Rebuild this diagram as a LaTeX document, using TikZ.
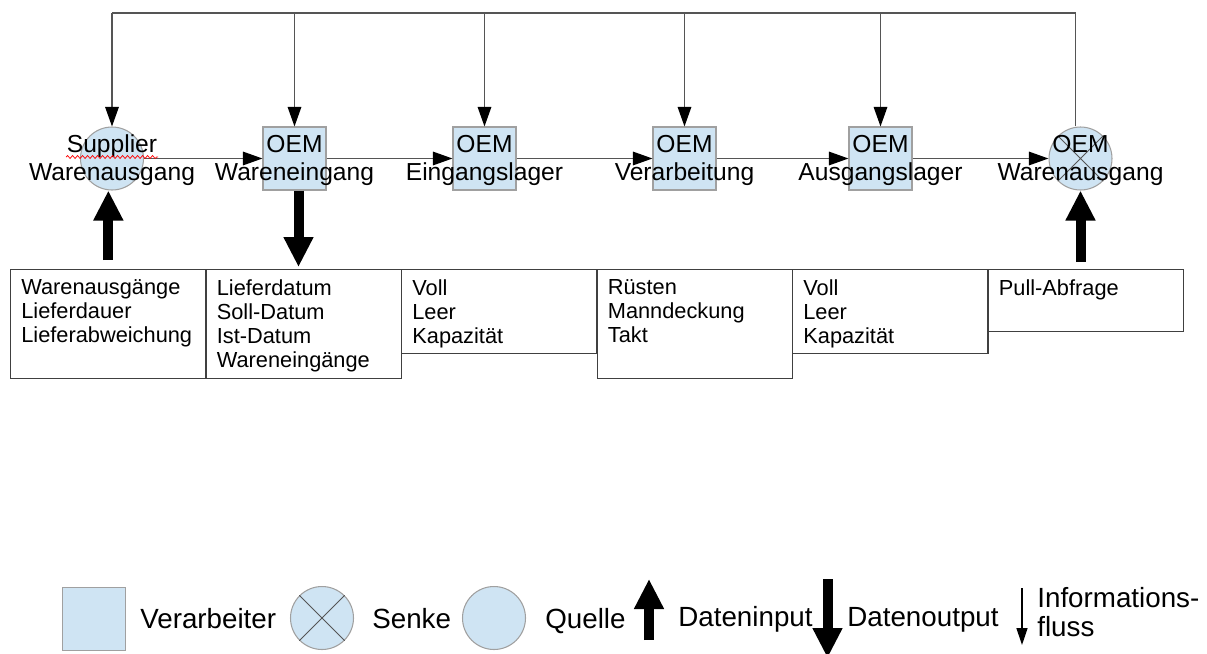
\documentclass[tikz,border=0pt]{standalone}
\usepackage{fontspec}
\setmainfont{Liberation Sans}
\usepackage{tikz}
\usetikzlibrary{arrows.meta,calc,decorations.pathmorphing}

\definecolor{procblue}{RGB}{207,228,243}
\definecolor{rimgray}{RGB}{160,160,160}
\definecolor{flowgray}{RGB}{85,85,85}
\definecolor{boxgray}{RGB}{64,64,64}

\tikzset{
    proc/.style={rectangle, draw=rimgray, fill=procblue, line width=0.6pt, minimum size=1.26cm, inner sep=0pt},
    src/.style={circle, draw=rimgray, fill=procblue, line width=0.6pt, minimum size=1.26cm, inner sep=0pt},
    cross/.style={draw=flowgray, line width=0.5pt},
    lbl/.style={align=center, inner sep=0pt, font=\fontsize{14}{15.9}\selectfont},
    info/.style={draw=flowgray, line width=0.8pt, -{Triangle[width=0.27cm,length=0.39cm,color=black]}},
    infoline/.style={draw=flowgray, line width=0.8pt},
    dataarrow/.style={draw=black, line width=0.2cm, -{Triangle[width=0.56cm,length=0.6cm]}},
    databox/.style={rectangle, draw=boxgray, line width=0.7pt, anchor=north west, minimum width=3.91cm, inner sep=0pt},
    boxtxt/.style={align=left, anchor=north west, inner sep=0pt, font=\fontsize{12.4}{13.8}\selectfont},
    legtxt/.style={anchor=base west, inner sep=0pt, font=\fontsize{15.8}{16.4}\selectfont},
    spell/.style={draw=red, line width=0.4pt, decorate, decoration={snake, amplitude=0.03cm, segment length=0.1cm}}
}

\begin{document}
\begin{tikzpicture}[x=0.02cm, y=-0.02cm]
    \useasboundingbox (0,0) rectangle (1207,653);

    % Prozesskette
    \node[src] (sup) at (112,158.5) {};
    \node[proc] (we) at (294.5,158.5) {};
    \node[proc] (el) at (484.5,158.5) {};
    \node[proc] (ver) at (684.5,158.5) {};
    \node[proc] (al) at (880.5,158.5) {};
    \node[src] (wa) at (1080.5,158.5) {};
    \draw[cross] (wa.north west) -- (wa.south east) (wa.north east) -- (wa.south west);

    % Informationsfluss
    \coordinate (tl) at (112,13);
    \coordinate (tr) at (1075.5,13);
    \draw[infoline] (wa.north -| tr) -- (tr) -- (tl);
    \draw[info] (tl) -- (sup);
    \draw[info] (we |- tl) -- (we);
    \draw[info] (el |- tl) -- (el);
    \draw[info] (ver |- tl) -- (ver);
    \draw[info] (al |- tl) -- (al);

    \draw[info] (sup) -- (we);
    \draw[info] (we) -- (el);
    \draw[info] (el) -- (ver);
    \draw[info] (ver) -- (al);
    \draw[info] (al) -- (wa);

    % Daten
    \node[databox, minimum height=2.18cm] (d1) at (10,269) {};
    \node[databox, minimum height=2.18cm] (d2) at (205.5,269) {};
    \node[databox, minimum height=1.68cm] (d3) at (401,269) {};
    \node[databox, minimum height=2.18cm] (d4) at (596.5,269) {};
    \node[databox, minimum height=1.68cm] (d5) at (792,269) {};
    \node[databox, minimum height=1.24cm] (d6) at (987.5,269) {};

    \node[boxtxt] (t1) at ($(d1.north west)+(11,10)$) {Warenausgänge\\Lieferdauer\\Lieferabweichung};
    \node[boxtxt] (t2) at ($(d2.north west)+(11,10)$) {Lieferdatum\\Soll-Datum\\Ist-Datum\\Wareneingänge};
    \node[boxtxt] (t3) at ($(d3.north west)+(11,10)$) {Voll\\Leer\\Kapazität};
    \node[boxtxt] (t4) at ($(d4.north west)+(11,10)$) {Rüsten\\Manndeckung\\Takt};
    \node[boxtxt] (t5) at ($(d5.north west)+(11,10)$) {Voll\\Leer\\Kapazität};
    \node[boxtxt] (t6) at ($(d6.north west)+(11,10)$) {Pull-Abfrage};

    \coordinate (weout) at ($(we.south)+(4,0)$);
    \draw[dataarrow] ($(d1.north)+(0,-9)$) -- (d1.north |- sup.south);
    \draw[dataarrow] (weout) -- ($(weout |- d2.north)+(0,-2)$);
    \draw[dataarrow] ($(wa.south |- d6.north)+(0,-7)$) -- (wa.south);

    % Beschriftungen
    \node[lbl] (lsup) at ($(sup)+(0,2)$) {Supplier\\Warenausgang};
    \node[lbl] (lwe) at ($(we)+(0,2)$) {OEM\\Wareneingang};
    \node[lbl] (lel) at ($(el)+(0,2)$) {OEM\\Eingangslager};
    \node[lbl] (lver) at ($(ver)+(0,2)$) {OEM\\Verarbeitung};
    \node[lbl] (lal) at ($(al)+(0,2)$) {OEM\\Ausgangslager};
    \node[lbl] (lwa) at ($(wa)+(0,2)$) {OEM\\Warenausgang};
    \draw[spell] (66,157) -- (158,157);

    % Legende
    \node[proc] (lproc) at (94,619) {};
    \node[legtxt] (lproctx) at (140,628) {Verarbeiter};
    \node[src] (lsink) at (322,618) {};
    \draw[cross] (lsink.north west) -- (lsink.south east) (lsink.north east) -- (lsink.south west);
    \node[legtxt] (lsinktx) at (372,628) {Senke};
    \node[src] (lsrc) at (494,618) {};
    \node[legtxt] (lsrctx) at (545,628) {Quelle};

    \coordinate (inA) at (649,640);
    \coordinate (inB) at (649,579);
    \draw[dataarrow] (inA) -- (inB);
    \node[legtxt] (lintx) at (678,626) {Dateninput};

    \coordinate (outA) at (827.5,579);
    \coordinate (outB) at (827.5,658);
    \draw[dataarrow] (outA) -- (outB);
    \node[legtxt] (louttx) at (847,626) {Datenoutput};

    \coordinate (flA) at (1022,588);
    \coordinate (flB) at (1022,645);
    \draw[info, draw=black, -{Triangle[width=0.22cm,length=0.34cm]}] (flA) -- (flB);
    \node[legtxt, align=left, anchor=north west] (lfltx) at (1037,587) {Informations-\\fluss};
\end{tikzpicture}
\end{document}
